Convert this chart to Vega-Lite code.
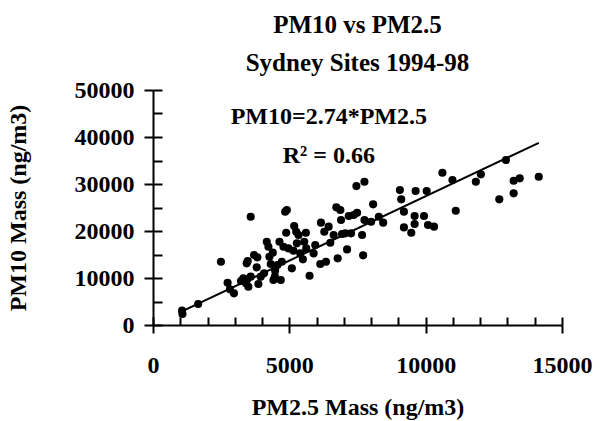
{
  "$schema": "https://vega.github.io/schema/vega-lite/v6.json",
  "width": 409,
  "height": 235,
  "autosize": {"type": "none"},
  "padding": {"left": 153, "top": 90, "right": 40, "bottom": 96},
  "background": "white",
  "config": {"view": {"stroke": null}, "font": "Liberation Serif"},
  "title": {
    "text": ["PM10 vs PM2.5", "Sydney Sites 1994-98"],
    "font": "Liberation Serif",
    "fontSize": 25,
    "fontWeight": "bold",
    "color": "black",
    "lineHeight": 38,
    "anchor": "middle",
    "offset": 2
  },
  "datasets": {
    "pts": [
      {"pm25": 1067, "pm10": 3050}, {"pm25": 1080, "pm10": 2340}, {"pm25": 1656, "pm10": 4470}, {"pm25": 2491, "pm10": 13470},
      {"pm25": 2736, "pm10": 9000}, {"pm25": 2822, "pm10": 7590}, {"pm25": 2969, "pm10": 6740}, {"pm25": 3227, "pm10": 9360},
      {"pm25": 3313, "pm10": 9930}, {"pm25": 3411, "pm10": 8860}, {"pm25": 3460, "pm10": 9710}, {"pm25": 3497, "pm10": 8150},
      {"pm25": 3583, "pm10": 10280}, {"pm25": 3436, "pm10": 13120}, {"pm25": 3473, "pm10": 13610}, {"pm25": 3583, "pm10": 23040},
      {"pm25": 3705, "pm10": 14890}, {"pm25": 3828, "pm10": 14390}, {"pm25": 3804, "pm10": 12270}, {"pm25": 3865, "pm10": 8720},
      {"pm25": 3951, "pm10": 10280}, {"pm25": 4074, "pm10": 10990}, {"pm25": 4172, "pm10": 17725}, {"pm25": 4233, "pm10": 16660},
      {"pm25": 4270, "pm10": 14530}, {"pm25": 4319, "pm10": 12970}, {"pm25": 4393, "pm10": 15390}, {"pm25": 4417, "pm10": 9570},
      {"pm25": 4479, "pm10": 11560}, {"pm25": 4470, "pm10": 10280}, {"pm25": 4564, "pm10": 12760}, {"pm25": 4638, "pm10": 17725},
      {"pm25": 4687, "pm10": 9570}, {"pm25": 4724, "pm10": 13470}, {"pm25": 4785, "pm10": 16660}, {"pm25": 4847, "pm10": 24100},
      {"pm25": 4908, "pm10": 24460}, {"pm25": 4884, "pm10": 19640}, {"pm25": 4969, "pm10": 16300}, {"pm25": 5092, "pm10": 12050},
      {"pm25": 5153, "pm10": 15810}, {"pm25": 5178, "pm10": 21060}, {"pm25": 5252, "pm10": 19850}, {"pm25": 5276, "pm10": 17370},
      {"pm25": 5337, "pm10": 19140}, {"pm25": 5399, "pm10": 15240}, {"pm25": 5497, "pm10": 13970}, {"pm25": 5546, "pm10": 17725},
      {"pm25": 5607, "pm10": 19640}, {"pm25": 5620, "pm10": 16300}, {"pm25": 5742, "pm10": 10490}, {"pm25": 5890, "pm10": 15240},
      {"pm25": 5951, "pm10": 17020}, {"pm25": 6135, "pm10": 12970}, {"pm25": 6160, "pm10": 21770}, {"pm25": 6282, "pm10": 19850},
      {"pm25": 6344, "pm10": 13470}, {"pm25": 6442, "pm10": 20920}, {"pm25": 6503, "pm10": 17510}, {"pm25": 6626, "pm10": 19140},
      {"pm25": 6724, "pm10": 25030}, {"pm25": 6773, "pm10": 14180}, {"pm25": 6871, "pm10": 24460}, {"pm25": 6896, "pm10": 22330},
      {"pm25": 6933, "pm10": 19360}, {"pm25": 7055, "pm10": 19500}, {"pm25": 7117, "pm10": 16090}, {"pm25": 7178, "pm10": 23180},
      {"pm25": 7264, "pm10": 19500}, {"pm25": 7362, "pm10": 23400}, {"pm25": 7460, "pm10": 29560}, {"pm25": 7485, "pm10": 23890},
      {"pm25": 7669, "pm10": 19140}, {"pm25": 7706, "pm10": 14820}, {"pm25": 7755, "pm10": 30490}, {"pm25": 7755, "pm10": 22330},
      {"pm25": 8000, "pm10": 21980}, {"pm25": 8074, "pm10": 25670}, {"pm25": 8282, "pm10": 23040}, {"pm25": 8442, "pm10": 21770},
      {"pm25": 9055, "pm10": 28710}, {"pm25": 9104, "pm10": 26730}, {"pm25": 9203, "pm10": 24110}, {"pm25": 9203, "pm10": 20770},
      {"pm25": 9472, "pm10": 19640}, {"pm25": 9595, "pm10": 21480}, {"pm25": 9632, "pm10": 28500}, {"pm25": 9595, "pm10": 23180},
      {"pm25": 9939, "pm10": 23180}, {"pm25": 10037, "pm10": 28500}, {"pm25": 10086, "pm10": 21270}, {"pm25": 10307, "pm10": 20920},
      {"pm25": 10614, "pm10": 32400}, {"pm25": 10982, "pm10": 30840}, {"pm25": 11104, "pm10": 24320}, {"pm25": 11840, "pm10": 30490},
      {"pm25": 12025, "pm10": 32050}, {"pm25": 12700, "pm10": 26730}, {"pm25": 12945, "pm10": 35100}, {"pm25": 13227, "pm10": 28010},
      {"pm25": 13227, "pm10": 30700}, {"pm25": 13448, "pm10": 31200}, {"pm25": 14148, "pm10": 31550}
    ],
    "fit": [
      {"pm25": 1000, "pm10": 2740},
      {"pm25": 14150, "pm10": 38770}
    ],
    "notes": [
      {"pm25": 6450, "pm10": 42770, "label": "PM10=2.74*PM2.5"},
      {"pm25": 6450, "pm10": 34400, "label": "R² = 0.66"}
    ]
  },
  "layer": [
    {
      "data": {"name": "pts"},
      "mark": {"type": "circle", "size": 66, "color": "black", "opacity": 1},
      "encoding": {
        "x": {
          "field": "pm25", "type": "quantitative",
          "scale": {"domain": [0, 15000], "nice": false, "zero": true},
          "axis": {
            "orient": "bottom", "values": [0, 5000, 10000, 15000], "format": "d",
            "grid": false, "domainColor": "black", "domainWidth": 2,
            "tickColor": "black", "tickWidth": 2, "tickSize": 8,
            "labelFont": "Liberation Serif", "labelFontSize": 24, "labelFontWeight": "bold", "labelColor": "black",
            "labelPadding": 20, "labelFlush": false, "labelOverlap": false,
            "title": "PM2.5 Mass (ng/m3)", "titleFont": "Liberation Serif", "titleFontSize": 24, "titleFontWeight": "bold",
            "titleColor": "black", "titleX": 204.5, "titleY": 89, "titleBaseline": "alphabetic", "titleAlign": "center"
          }
        },
        "y": {
          "field": "pm10", "type": "quantitative",
          "scale": {"domain": [0, 50000], "nice": false, "zero": true},
          "axis": {
            "orient": "left", "values": [0, 10000, 20000, 30000, 40000, 50000], "format": "d",
            "grid": false, "domainColor": "black", "domainWidth": 2,
            "tickColor": "black", "tickWidth": 2, "tickSize": 9,
            "labelFont": "Liberation Serif", "labelFontSize": 24, "labelFontWeight": "bold", "labelColor": "black",
            "labelPadding": 10, "labelFlush": false, "labelOverlap": false,
            "title": "PM10 Mass (ng/m3)", "titleFont": "Liberation Serif", "titleFontSize": 24, "titleFontWeight": "bold",
            "titleColor": "black", "titleAngle": -90, "titleX": -128, "titleY": 117.5, "titleBaseline": "alphabetic", "titleAlign": "center"
          }
        }
      }
    },
    {
      "data": {"name": "fit"},
      "mark": {"type": "line", "color": "black", "strokeWidth": 2},
      "encoding": {
        "x": {
          "field": "pm25", "type": "quantitative",
          "axis": {
            "orient": "bottom", "values": [0, 1000, 2000, 3000, 4000, 5000, 6000, 7000, 8000, 9000, 10000, 11000, 12000, 13000, 14000, 15000],
            "grid": false, "domain": false, "labels": false, "title": null,
            "tickColor": "black", "tickWidth": 2, "tickSize": -8
          }
        },
        "y": {
          "field": "pm10", "type": "quantitative",
          "axis": {
            "orient": "left", "values": [0, 5000, 10000, 15000, 20000, 25000, 30000, 35000, 40000, 45000, 50000],
            "grid": false, "domain": false, "labels": false, "title": null,
            "tickColor": "black", "tickWidth": 2, "tickSize": -9
          }
        }
      }
    },
    {
      "data": {"name": "notes"},
      "mark": {"type": "text", "font": "Liberation Serif", "fontSize": 24, "fontWeight": "bold", "color": "black", "align": "center", "baseline": "alphabetic"},
      "encoding": {
        "x": {"field": "pm25", "type": "quantitative", "axis": null},
        "y": {"field": "pm10", "type": "quantitative", "axis": null},
        "text": {"field": "label", "type": "nominal"}
      }
    }
  ],
  "resolve": {"axis": {"x": "independent", "y": "independent"}}
}
